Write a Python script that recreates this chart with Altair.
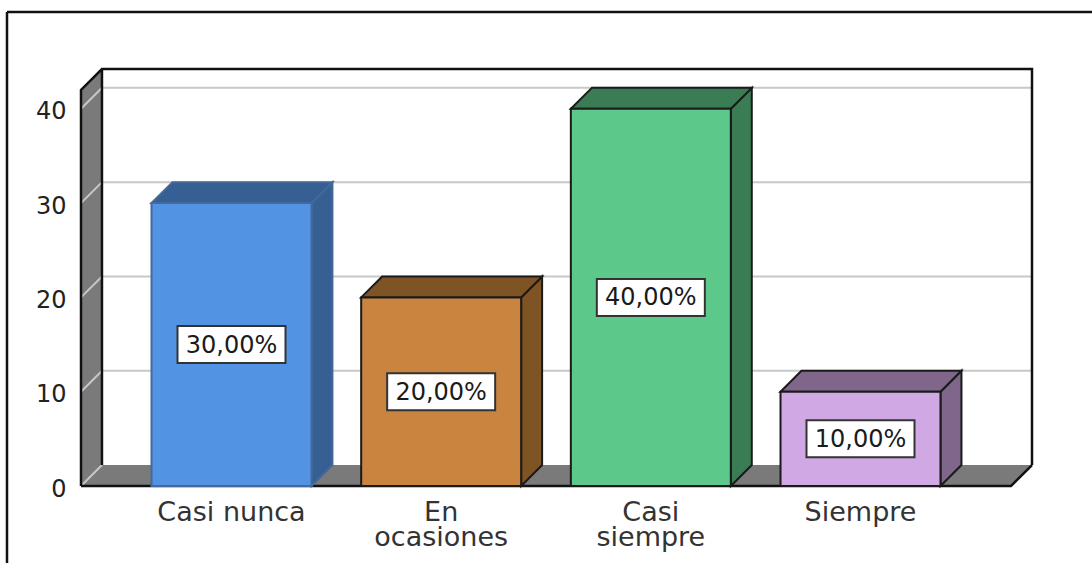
import altair as alt
import pandas as pd

categorias = ["Casi nunca", "En\nocasiones", "Casi\nsiempre", "Siempre"]
valores = [30, 20, 40, 10]
etiquetas = ["30,00%", "20,00%", "40,00%", "10,00%"]
ticks_y = [0, 10, 20, 30, 40]
color_frente = ["#5294E3", "#C9853F", "#5CC98B", "#D0A8E4"]
color_lado = ["#365F94", "#7F5425", "#3A7D55", "#7F668A"]
color_borde = ["#44699A", "#1A1A1A", "#1A1A1A", "#1A1A1A"]

# Plot area in pixels and the scales that go with it
ANCHO, ALTO = 951, 417
PAD_IZQ, PAD_SUP = 81, 69
X_MIN, X_MAX = -0.7178, 3.818
Y_MAX = 44.22
PROF_X, PROF_Y = 0.1, 2.22          # depth of the 3D extrusion, in data units
MEDIO_ANCHO = 0.3815                # half a bar's width
TECHO = 42                          # height of the side wall at the front

esc_x = alt.Scale(domain=[X_MIN, X_MAX], nice=False, zero=False)
esc_y = alt.Scale(domain=[0, Y_MAX], nice=False)


def X(campo="x"):
    return alt.X(f"{campo}:Q", scale=esc_x, axis=None)


def Y(campo="y"):
    return alt.Y(f"{campo}:Q", scale=esc_y, axis=None)


# Room: floor and side wall of the box
gris = "#7A7A7A"
x_der_suelo = X_MAX - PROF_X
suelo = alt.Chart(pd.DataFrame({
    "y": [0, PROF_Y],
    "x": [X_MIN, X_MIN + PROF_X],
    "x2": [x_der_suelo, X_MAX],
})).mark_area(orient="horizontal", color=gris).encode(
    y=Y(), x=X(), x2="x2:Q"
)
pared = alt.Chart(pd.DataFrame({
    "x": [X_MIN, X_MIN + PROF_X],
    "y": [TECHO, Y_MAX],
    "y2": [0, PROF_Y],
})).mark_area(color=gris).encode(x=X(), y=Y(), y2="y2:Q")

# Grid: a diagonal across the wall, then straight across the back
filas_rejilla = []
for t in ticks_y:
    filas_rejilla += [
        {"t": t, "orden": 0, "x": X_MIN, "y": t},
        {"t": t, "orden": 1, "x": X_MIN + PROF_X, "y": t + PROF_Y},
    ]
    if t > 0:
        filas_rejilla.append({"t": t, "orden": 2, "x": X_MAX, "y": t + PROF_Y})
rejilla = alt.Chart(pd.DataFrame(filas_rejilla)).mark_line(
    color="#C8C8C8", strokeWidth=2
).encode(x=X(), y=Y(), detail="t:N", order="orden:Q")

# Dark edges of the box
aristas = [
    [(X_MIN, 0), (X_MIN, TECHO), (X_MIN + PROF_X, Y_MAX), (X_MAX, Y_MAX), (X_MAX, PROF_Y)],
    [(X_MIN + PROF_X, PROF_Y), (X_MIN + PROF_X, Y_MAX)],
    [(X_MIN, 0), (x_der_suelo, 0), (X_MAX, PROF_Y)],
]
filas_aristas = [
    {"arista": i, "orden": j, "x": px, "y": py}
    for i, tramo in enumerate(aristas)
    for j, (px, py) in enumerate(tramo)
]
bordes = alt.Chart(pd.DataFrame(filas_aristas)).mark_line(
    color="#111111", strokeWidth=2.5, strokeJoin="miter"
).encode(x=X(), y=Y(), detail="arista:N", order="orden:Q")

# Faces of each bar
relleno_frente = alt.Fill("cat:N", scale=alt.Scale(domain=categorias, range=color_frente), legend=None)
relleno_lado = alt.Fill("cat:N", scale=alt.Scale(domain=categorias, range=color_lado), legend=None)
trazo = alt.Stroke("cat:N", scale=alt.Scale(domain=categorias, range=color_borde), legend=None)

frente_df = pd.DataFrame({
    "cat": categorias,
    "x": [i - MEDIO_ANCHO for i in range(4)],
    "x2": [i + MEDIO_ANCHO for i in range(4)],
    "y": valores,
    "y2": [0] * 4,
})
frente = alt.Chart(frente_df).mark_rect(strokeWidth=2).encode(
    x=X(), x2="x2:Q", y=Y(), y2="y2:Q", fill=relleno_frente, stroke=trazo
)

filas_lado, filas_tapa = [], []
for i, (c, v) in enumerate(zip(categorias, valores)):
    der = i + MEDIO_ANCHO
    izq = i - MEDIO_ANCHO
    filas_lado += [
        {"cat": c, "x": der, "y": v, "y2": 0},
        {"cat": c, "x": der + PROF_X, "y": v + PROF_Y, "y2": PROF_Y},
    ]
    filas_tapa += [
        {"cat": c, "y": v, "x": izq, "x2": der},
        {"cat": c, "y": v + PROF_Y, "x": izq + PROF_X, "x2": der + PROF_X},
    ]
lado = alt.Chart(pd.DataFrame(filas_lado)).mark_area(strokeWidth=2).encode(
    x=X(), y=Y(), y2="y2:Q", fill=relleno_lado, stroke=trazo
)
tapa = alt.Chart(pd.DataFrame(filas_tapa)).mark_area(orient="horizontal", strokeWidth=2).encode(
    y=Y(), x=X(), x2="x2:Q", fill=relleno_lado, stroke=trazo
)

# Value labels in white boxes at mid height
etiq_df = pd.DataFrame({
    "x": list(range(4)),
    "y": [v / 2 for v in valores],
    "t": etiquetas,
})
caja = alt.Chart(etiq_df).mark_rect(
    width=108, height=37, fill="white", stroke="#333333", strokeWidth=2
).encode(x=X(), y=Y())
texto = alt.Chart(etiq_df).mark_text(
    font="DejaVu Sans", fontSize=24, color="#1A1A1A", dy=1
).encode(x=X(), y=Y(), text="t:N")

# Category names under the floor
nombres = alt.Chart(pd.DataFrame({
    "x": list(range(4)),
    "y": [0] * 4,
    "t": categorias,
})).mark_text(
    font="DejaVu Sans", fontSize=27, color="#333333", baseline="top",
    lineBreak="\n", lineHeight=25, dy=14
).encode(x=X(), y=Y(), text="t:N")

# Value axis, labels only
eje_y = alt.Chart(pd.DataFrame({"y": ticks_y})).mark_point(opacity=0).encode(
    x=alt.value(0),
    y=alt.Y("y:Q", scale=esc_y, axis=alt.Axis(
        values=ticks_y, title=None, domain=False, ticks=False, grid=False,
        labelFont="DejaVu Sans", labelFontSize=24, labelColor="#222222",
        labelPadding=15, labelOffset=3,
    )),
)

# Outer frame: open on the right, runs off the bottom of the page
marco = alt.Chart(pd.DataFrame({
    "x": [7 - PAD_IZQ, 7 - PAD_IZQ],
    "x2": [1092 - PAD_IZQ, 7 - PAD_IZQ],
    "y": [12 - PAD_SUP, 12 - PAD_SUP],
    "y2": [12 - PAD_SUP, 563 - PAD_SUP],
})).mark_rule(color="#111111", strokeWidth=2.5).encode(
    x=alt.X("x:Q", scale=None), x2="x2:Q",
    y=alt.Y("y:Q", scale=None), y2="y2:Q",
)

chart = alt.layer(
    suelo, pared, rejilla, bordes, lado, tapa, frente, caja, texto, nombres, eje_y, marco
).resolve_scale(x="independent", y="independent", fill="independent").properties(
    width=ANCHO, height=ALTO,
    padding={"left": PAD_IZQ, "top": PAD_SUP, "right": 1092 - PAD_IZQ - ANCHO, "bottom": 563 - PAD_SUP - ALTO},
    autosize=alt.AutoSizeParams(type="none", contains="content"),
    background="white",
).configure_view(stroke=None)

chart.save("out.html", embed_options={"renderer": "svg", "actions": False})
